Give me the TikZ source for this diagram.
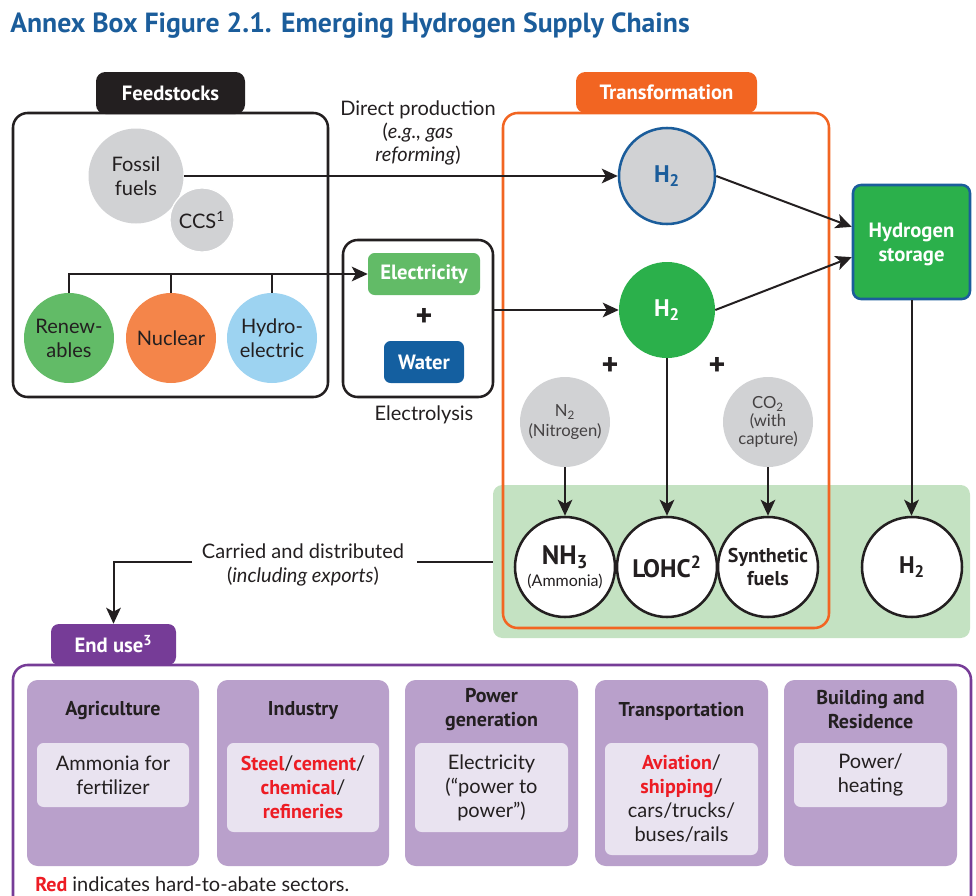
\documentclass[tikz,border=0pt]{standalone}
\usepackage{fontspec}
\setmainfont{Lato}
\newfontfamily\hdfont{PT Sans}
\usetikzlibrary{arrows.meta,fit,calc}
\definecolor{titleblue}{HTML}{1B5D9B}
\definecolor{txt}{HTML}{231F20}
\definecolor{labelblack}{HTML}{231F20}
\definecolor{fossilgray}{HTML}{D1D2D4}
\definecolor{renewgreen}{HTML}{62BB67}
\definecolor{nuclearorange}{HTML}{F4854A}
\definecolor{hydroblue}{HTML}{9DD3F1}
\definecolor{waterblue}{HTML}{145FA0}
\definecolor{transorange}{HTML}{F26522}
\definecolor{htwogreen}{HTML}{2BB04B}
\definecolor{htwoblue}{HTML}{1B5D9B}
\definecolor{lightgreen}{HTML}{C4E2C2}
\definecolor{enduse}{HTML}{763C97}
\definecolor{sectorfill}{HTML}{B9A0CB}
\definecolor{innerfill}{HTML}{E9E3F0}
\definecolor{hardred}{HTML}{ED1C24}
\newcommand\hard[1]{{\hdfont\bfseries\color{hardred}#1}}
\begin{document}
\begin{tikzpicture}[x=0.75pt,y=-0.75pt,
  lbl/.style={font=\hdfont\bfseries\fontsize{15.5}{18}\selectfont, text=white, align=center},
  body/.style={font=\fontsize{15}{18}\selectfont, text=txt, align=center},
  small/.style={font=\fontsize{12.5}{14.5}\selectfont, text=txt!85, align=center},
  arr/.style={line width=1.5pt, draw=txt, -{Stealth[length=12pt,width=11pt,inset=3pt]}},
  plainline/.style={line width=1.5pt, draw=txt},
  frame/.style={inner sep=0pt, draw, line width=1.9pt, rounded corners=11pt},
  tag/.style={inner sep=0pt, rounded corners=7pt},
  src/.style={circle, inner sep=0pt, minimum size=67.5pt, body},
  prod/.style={circle, inner sep=0pt, minimum size=75pt, draw=txt, line width=1.9pt, fill=white, align=center, text=txt},
  sector/.style={inner sep=0pt, fill=sectorfill, rounded corners=8pt},
  inner/.style={inner sep=0pt, fill=innerfill, rounded corners=5pt},
  shead/.style={font=\hdfont\bfseries\fontsize{15}{18}\selectfont, text=txt, align=center},
  plus/.style={font=\hdfont\bfseries\fontsize{24}{24}\selectfont, text=txt}
]
\useasboundingbox (0,0) rectangle (976,896);
\clip (0,0) rectangle (976,896);

% title
\node[anchor=base west, inner sep=0pt, font=\hdfont\bfseries\fontsize{20.8}{23}\selectfont, text=titleblue] (title) at (10,32) {Annex Box Figure 2.1. Emerging Hydrogen Supply Chains};

% feedstocks
\node[frame, draw=txt, fit={(13,113) (328,397)}] (feedbox) {};
\node[tag, fill=labelblack, fit={(96,72) (245,114)}, label={[lbl]center:Feedstocks}] (feedlbl) {};
\node[src, minimum size=71.25pt, fill=fossilgray] (fossil) at (136,176) {Fossil\\fuels};
\node[src, minimum size=48pt, fill=fossilgray, draw=white, line width=1pt] (ccs) at (202,220) {CCS\textsuperscript{1}};
\node[src, fill=renewgreen] (renew) at (69,338) {Renew-\\ables};
\node[src, fill=nuclearorange] (nuclear) at (171,338) {Nuclear};
\node[src, fill=hydroblue] (hydro) at (272,338) {Hydro-\\electric};

% electrolysis
\node[frame, draw=txt, fit={(343,240) (493,397)}] (elbox) {};
\node[tag, rounded corners=5pt, fill=renewgreen, fit={(368,253) (480,295)}, label={[lbl]center:Electricity}] (elec) {};
\node[plus] (elplus) at (424,317) {+};
\node[tag, rounded corners=5pt, fill=waterblue, fit={(384,341) (464,383)}, label={[lbl]center:Water}] (water) {};
\node[body] (eltext) at (424,415) {Electrolysis};

\draw[arr] (renew.north) |- (elec.west);
\draw[plainline] (nuclear.north) -- (nuclear.north |- elec.west);
\draw[plainline] (hydro.north) -- (hydro.north |- elec.west);

% green area and transformation
\node[inner sep=0pt, fill=lightgreen, rounded corners=7pt, fit={(493,485) (970,638)}] (greenarea) {};
\node[frame, draw=transorange, fit={(503,113) (829,628)}] (transbox) {};
\node[tag, fill=transorange, fit={(576,72) (757,113)}, label={[lbl]center:Transformation}] (translbl) {};

\node[circle, inner sep=0pt, minimum size=72pt, fill=fossilgray, draw=htwoblue, line width=1.9pt, text=htwoblue, font=\hdfont\bfseries\fontsize{18}{18}\selectfont] (grayh) at (667,176) {H\textsubscript{2}};
\node[circle, inner sep=0pt, minimum size=72pt, fill=htwogreen, text=white, font=\hdfont\bfseries\fontsize{18}{18}\selectfont] (greenh) at (667,310) {H\textsubscript{2}};

\node[inner sep=0pt, fill=htwogreen, draw=htwoblue, line width=1.9pt, rounded corners=6pt, fit={(853,185) (970,299)}, label={[lbl, yshift=-2pt]center:Hydrogen\\storage}] (storage) {};

\draw[arr] (fossil.east) -- (grayh.west);
\node[body, font=\fontsize{15}{17.5}\selectfont] (directlbl) at (418,133) {Direct production\\(\textit{e.g., gas}\\\textit{reforming})};
\draw[arr] (greenh.west -| elbox.east) -- (greenh.west);
\draw[arr] (grayh.east) -- ($(storage.north west)!0.37!(storage.south west)$);
\draw[arr] (greenh.east) -- ($(storage.north west)!0.63!(storage.south west)$);

\node[plus] (plusa) at (610,366) {+};
\node[plus] (plusb) at (717,366) {+};

\node[src, fill=fossilgray, small] (ntwo) at (565,422) {N\textsubscript{2}\\(Nitrogen)};
\node[src, fill=fossilgray, small, font=\fontsize{12.5}{13.5}\selectfont] (cotwo) at (768,422) {CO\textsubscript{2}\\(with\\capture)};

\node[prod] (nh) at (565,567) {{\hdfont\bfseries\fontsize{20}{20}\selectfont NH\textsubscript{3}}\\[3pt]{\fontsize{12}{13}\selectfont (Ammonia)}};
\node[prod, font=\hdfont\bfseries\fontsize{19}{19}\selectfont] (lohc) at (667,567) {LOHC\textsuperscript{2}};
\node[prod, font=\hdfont\bfseries\fontsize{15}{17}\selectfont] (synth) at (768,567) {Synthetic\\fuels};
\node[prod, font=\hdfont\bfseries\fontsize{18}{18}\selectfont] (hr) at (912,567) {H\textsubscript{2}};

\draw[arr] (ntwo.south) -- (nh.north);
\draw[arr] (greenh.south) -- (lohc.north);
\draw[arr] (cotwo.south) -- (synth.north);
\draw[arr] (storage.south) -- (storage.south |- hr.north);

% end use
\node[frame, draw=enduse, fit={(13,665) (971,930)}] (endbox) {};
\node[tag, rounded corners=6pt, fill=enduse, fit={(51,624) (176,665)}, label={[lbl]center:End use\textsuperscript{3}}] (endlbl) {};

\node[body] (carried) at (303,565) {Carried and distributed\\(\textit{including exports})};
\coordinate (cR) at (417,562);
\coordinate (cL) at (192,562);
\draw[plainline] (greenarea.west |- cR) -- (cR);
\draw[arr] (cL) -| (endlbl.north);

% sectors
\node[sector, fit={(27,680) (199,866)}] (s1) {};
\node[sector, fit={(217,680) (389,866)}] (s2) {};
\node[sector, fit={(405,680) (578,866)}] (s3) {};
\node[sector, fit={(595,680) (768,866)}] (s4) {};
\node[sector, fit={(784,680) (957,866)}] (s5) {};

\node[shead] (h1) at (113,711) {Agriculture};
\node[shead] (h2) at (303,711) {Industry};
\node[shead] (h3) at (491.5,710) {Power\\generation};
\node[shead] (h4) at (681.5,711) {Transportation};
\node[shead] (h5) at (870.5,710) {Building and\\Residence};

\node[inner, fit={(37,743) (189,807)}, label={[body]center:Ammonia for\\fertilizer}] (i1) {};
\node[inner, fit={(227,743) (379,832)}, label={[body]center:\hard{Steel}/\hard{cement}/\\\hard{chemical}/\\\hard{refineries}}] (i2) {};
\node[inner, fit={(415,743) (568,832)}, label={[body]center:Electricity\\(“power to\\power”)}] (i3) {};
\node[inner, fit={(605,743) (758,855)}, label={[body]center:\hard{Aviation}/\\\hard{shipping}/\\cars/trucks/\\buses/rails}] (i4) {};
\node[inner, fit={(794,743) (947,807)}, label={[body]center:Power/\\heating}] (i5) {};

\node[body, anchor=west, inner sep=0pt] (note) at (35,884) {\hard{Red} indicates hard-to-abate sectors.};
\end{tikzpicture}
\end{document}
